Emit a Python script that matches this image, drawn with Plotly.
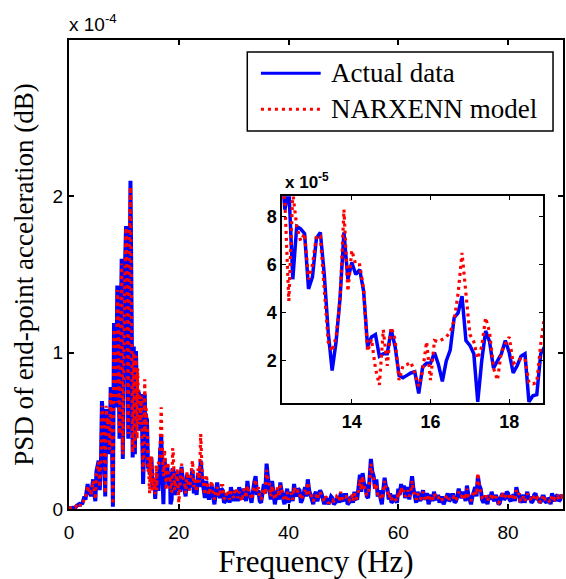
import numpy as np
import plotly.graph_objects as go

# Frequency grids (Hz): 0.2 Hz up to 12 Hz, 0.1 Hz through the zoomed band, 0.25 Hz tail
freq_low = np.round(np.arange(0.0, 12.01, 0.2), 2)
freq_mid = np.round(np.arange(12.2, 18.91, 0.1), 2)
freq_high = np.round(np.arange(19.0, 90.001, 0.25), 2)

# PSD values, in units of 1e-5
actual_low = [
    0.05, 0.05, 0.05, 0.05, 0.1, 0.1, 0.1, 0.2, 0.3, 0.3,
    0.2, 0.4, 0.3, 0.5, 0.8, 0.6, 1.2, 1.6, 0.9, 1.3,
    0.8, 1.5, 1.9, 1.0, 0.5, 2.4, 2.9, 3.1, 1.2, 2.5,
    6.9, 5.6, 4.8, 0.8, 6.4, 5.2, 6.0, 3.5, 7.8, 5.0,
    0.15, 11.9, 10.0, 6.5, 14.3, 11.0, 4.5, 12.5, 16.0, 3.2,
    13.0, 15.5, 18.1, 14.0, 4.5, 17.0, 21.0, 13.0, 3.3, 10.4,
    3.5,
]
model_low = [
    0.05, 0.05, 0.05, 0.1, 0.1, 0.15, 0.1, 0.25, 0.3, 0.35,
    0.2, 0.4, 0.35, 0.45, 0.7, 0.7, 1.1, 1.5, 1.0, 1.2,
    0.9, 1.4, 1.8, 1.1, 0.6, 2.2, 2.8, 3.0, 1.4, 2.7,
    6.6, 5.8, 5.0, 1.0, 6.6, 5.4, 5.8, 3.8, 7.5, 5.2,
    0.3, 11.5, 10.3, 6.8, 14.0, 11.3, 4.8, 12.2, 15.7, 3.5,
    12.6, 15.2, 18.0, 14.3, 4.8, 17.5, 20.6, 13.4, 3.6, 10.0,
    3.8,
]
actual_mid = [
    10.1, 8.3, 9.2, 5.4, 7.6, 7.5, 7.3, 5.0, 5.5, 7.1,
    7.35, 5.6, 3.2, 1.6, 2.8, 4.6, 7.35, 5.4, 6.1, 5.6,
    5.8, 4.9, 2.6, 3.0, 3.1, 2.2, 2.3, 2.3, 3.3, 2.6,
    1.4, 1.3, 1.4, 1.5, 1.55, 0.65, 1.75, 1.9, 1.9, 2.35,
    1.85, 1.15, 2.0, 2.45, 3.8, 4.0, 4.7, 2.85, 2.65, 2.3,
    0.3, 2.0, 3.25, 2.8, 1.7, 2.0, 2.3, 2.85, 2.35, 1.5,
    1.8, 2.2, 2.3, 0.3, 0.55, 0.6, 2.3, 2.6,
]
model_mid = [
    9.8, 8.6, 4.5, 9.0, 7.6, 7.0, 7.3, 5.4, 6.0, 7.2,
    7.2, 4.9, 2.8, 2.4, 3.0, 4.5, 8.3, 4.9, 6.6, 6.0,
    6.0, 5.0, 2.4, 2.9, 1.7, 1.0, 3.3, 1.8, 3.4, 2.9,
    1.2, 1.8, 1.85, 1.95, 1.5, 0.95, 1.6, 2.8, 1.2, 2.85,
    2.8, 2.9, 3.0, 3.2, 3.7, 4.8, 6.5, 4.8, 3.1, 2.8,
    2.1, 2.6, 3.8, 3.2, 1.7, 1.2, 2.4, 2.7, 3.0, 1.9,
    2.0, 2.1, 2.1, 1.1, 1.05, 1.1, 2.7, 3.9,
]
# one row per 5 Hz, starting at 19 Hz
actual_high = [
    2.5, 0.9, 1.2, 2.4, 2.0, 1.1, 2.7, 1.8, 1.3, 0.8, 2.2, 1.2, 1.5, 2.1, 2.5, 1.0, 1.6, 0.9, 2.3, 1.4,
    3.1, 2.0, 1.3, 0.7, 1.8, 1.1, 0.6, 1.2, 1.5, 0.8, 0.3, 1.1, 1.7, 1.0, 0.7, 1.3, 1.2, 0.4, 0.5, 1.0,
    0.9, 0.4, 1.4, 0.9, 0.5, 1.2, 1.0, 0.5, 1.4, 0.9, 0.6, 1.3, 1.1, 0.5, 1.8, 1.0, 0.8, 0.4, 1.4, 1.7,
    2.1, 0.9, 1.2, 0.5, 0.4, 1.0, 1.6, 1.0, 2.9, 2.0, 1.3, 0.6, 1.8, 1.1, 0.3, 0.8, 1.2, 0.6, 1.7, 1.1,
    0.7, 0.3, 0.9, 1.3, 0.4, 0.7, 1.1, 0.5, 1.6, 1.0, 0.8, 1.3, 1.2, 0.4, 0.6, 1.0, 1.4, 0.8, 1.9, 1.2,
    0.9, 0.4, 0.3, 0.9, 1.1, 0.5, 0.8, 1.2, 1.0, 0.6, 0.3, 0.7, 0.6, 0.3, 0.5, 0.8, 0.7, 0.3, 0.4, 0.7,
    0.8, 0.4, 1.0, 0.6, 0.5, 0.9, 0.9, 0.3, 0.4, 0.7, 0.8, 0.4, 1.1, 0.7, 0.6, 1.4, 2.2, 1.1, 2.3, 1.6,
    1.5, 0.8, 0.7, 1.9, 3.2, 2.4, 2.1, 1.3, 1.9, 0.8, 1.2, 0.7, 0.3, 1.2, 2.0, 1.4, 1.3, 0.6, 1.0, 0.4,
    0.5, 0.9, 0.7, 0.4, 1.3, 0.9, 1.6, 1.1, 1.5, 0.7, 1.1, 1.4, 0.6, 1.2, 2.1, 1.3, 0.8, 0.4, 1.1, 0.7,
    0.5, 0.9, 1.2, 0.6, 0.8, 1.0, 0.3, 0.6, 0.9, 0.5, 1.1, 0.7, 0.6, 0.9, 0.4, 0.7, 0.7, 0.3, 0.5, 0.8,
    1.0, 0.5, 0.6, 0.9, 0.9, 0.4, 0.5, 0.8, 1.3, 0.9, 0.7, 1.1, 0.9, 0.5, 1.5, 0.9, 0.6, 0.3, 0.8, 1.1,
    1.4, 0.8, 2.1, 1.5, 1.3, 0.6, 0.4, 0.8, 0.7, 0.3, 0.9, 0.6, 1.1, 0.7, 0.5, 0.9, 0.7, 0.3, 0.4, 0.8,
    1.0, 0.6, 0.7, 1.1, 1.0, 0.6, 0.5, 0.8, 0.9, 0.5, 1.4, 1.0, 0.9, 0.4, 0.6, 0.9, 0.4, 0.7, 1.1, 0.6,
    0.8, 0.4, 0.5, 0.9, 1.0, 0.6, 0.7, 0.4, 0.5, 0.8, 0.8, 0.5, 0.4, 0.7, 0.6, 0.3, 1.0, 0.7, 0.5, 0.8,
    0.9, 0.5, 0.6, 0.9, 0.7,
]
model_high = [
    3.5, 1.2, 1.8, 2.6, 0.4, 1.4, 2.9, 2.0, 1.8, 1.0, 2.4, 1.5, 1.2, 2.3, 3.1, 1.4, 2.0, 1.1, 2.6, 1.7,
    4.8, 2.3, 1.5, 0.9, 2.2, 1.3, 0.9, 1.4, 1.8, 1.0, 0.6, 1.2, 1.4, 0.8, 1.0, 1.5, 1.5, 0.7, 0.6, 1.1,
    1.2, 0.6, 1.1, 1.0, 0.7, 1.3, 1.3, 0.7, 1.1, 0.8, 0.5, 1.1, 1.3, 0.7, 1.5, 1.1, 1.0, 0.6, 1.2, 1.5,
    1.9, 1.1, 1.4, 0.7, 0.6, 1.1, 1.3, 0.9, 2.5, 1.8, 1.6, 0.8, 1.5, 1.0, 0.6, 0.9, 1.4, 0.8, 1.5, 1.2,
    0.9, 0.5, 0.7, 1.1, 0.6, 0.8, 1.0, 0.6, 1.4, 1.1, 1.0, 1.2, 1.0, 0.6, 0.8, 1.1, 1.2, 0.9, 1.7, 1.0,
    1.1, 0.6, 0.5, 0.8, 0.9, 0.6, 1.0, 1.1, 0.8, 0.7, 0.5, 0.8, 0.7, 0.4, 0.4, 0.6, 0.6, 0.5, 0.6, 0.8,
    0.7, 0.5, 1.1, 0.7, 0.6, 0.8, 0.8, 0.5, 0.5, 0.8, 0.9, 0.5, 1.0, 0.6, 0.8, 1.2, 1.9, 1.2, 2.1, 1.4,
    1.3, 0.9, 0.9, 1.6, 2.9, 2.2, 1.9, 1.2, 1.6, 0.9, 1.0, 0.8, 0.6, 1.1, 1.8, 1.2, 1.1, 0.7, 0.9, 0.6,
    0.7, 0.8, 0.6, 0.5, 1.1, 0.8, 1.4, 1.0, 1.2, 0.8, 0.9, 1.2, 0.8, 1.0, 1.8, 1.1, 0.9, 0.6, 1.0, 0.8,
    0.6, 0.8, 1.1, 0.7, 0.7, 0.9, 0.5, 0.7, 0.8, 0.6, 1.0, 0.8, 0.7, 0.8, 0.5, 0.6, 0.6, 0.5, 0.6, 0.8,
    0.9, 0.6, 0.7, 0.8, 0.8, 0.5, 0.6, 0.8, 1.1, 0.8, 0.8, 1.0, 0.8, 0.6, 1.3, 0.8, 0.7, 0.5, 0.9, 1.0,
    1.2, 0.9, 2.3, 1.4, 1.1, 0.7, 0.6, 0.8, 0.8, 0.5, 0.8, 0.7, 1.0, 0.7, 0.6, 0.8, 0.6, 0.4, 0.5, 0.8,
    0.9, 0.7, 0.8, 1.0, 0.9, 0.7, 0.6, 0.8, 0.8, 0.6, 1.2, 0.9, 1.0, 0.5, 0.5, 0.8, 0.5, 0.7, 1.0, 0.7,
    0.7, 0.5, 0.6, 0.8, 0.9, 0.7, 0.8, 0.5, 0.4, 0.7, 0.9, 0.6, 0.5, 0.6, 0.5, 0.4, 0.9, 0.7, 0.6, 0.7,
    0.8, 0.6, 0.7, 0.8, 0.6,
]

freq = np.concatenate([freq_low, freq_mid, freq_high])
actual = np.concatenate([actual_low, actual_mid, actual_high]) * 1e-5
model = np.concatenate([model_low, model_mid, model_high]) * 1e-5

main_ticks_x = [0, 20, 40, 60, 80]
main_ticks_y = [0, 1e-4, 2e-4]
main_ticklabels_y = ["0", "1", "2"]
inset_ticks_x = [14, 16, 18]
inset_ticks_y = [2e-5, 4e-5, 6e-5, 8e-5]
inset_ticklabels_y = ["2", "4", "6", "8"]

BLUE = "#0000FF"
RED = "#FF0000"
SANS = "Liberation Sans, Arial, sans-serif"
SERIF = "Liberation Serif, Times New Roman, serif"
DOTS = "3px,4px"

fig = go.Figure()

# main spectrum
fig.add_trace(go.Scatter(x=freq, y=actual, mode="lines", name="Actual data",
                         line=dict(color=BLUE, width=4), xaxis="x", yaxis="y"))
fig.add_trace(go.Scatter(x=freq, y=model, mode="lines", name="NARXENN model",
                         line=dict(color=RED, width=3.2, dash=DOTS), xaxis="x", yaxis="y"))

# zoomed inset
fig.add_trace(go.Scatter(x=freq, y=actual, mode="lines", showlegend=False,
                         line=dict(color=BLUE, width=3.5), xaxis="x2", yaxis="y2"))
fig.add_trace(go.Scatter(x=freq, y=model, mode="lines", showlegend=False,
                         line=dict(color=RED, width=3.2, dash=DOTS), xaxis="x2", yaxis="y2"))

axis_common = dict(showline=True, linecolor="black", mirror="allticks", ticks="inside",
                   tickcolor="black", showgrid=False, zeroline=False)

fig.update_layout(
    width=566, height=579,
    margin=dict(l=69, r=1, t=40, b=70),
    paper_bgcolor="white", plot_bgcolor="white",
    showlegend=False,
    xaxis=dict(domain=[0, 1], range=[0, 90], tickvals=main_ticks_x, ticklen=5, tickwidth=1.5,
               linewidth=2, ticklabelstandoff=5,
               tickfont=dict(family=SANS, size=19, color="black"),
               title=dict(text="Frequency (Hz)", standoff=9,
                          font=dict(family=SERIF, size=31, color="black")),
               **axis_common),
    yaxis=dict(domain=[0, 1], range=[0, 3e-4], tickvals=main_ticks_y, ticktext=main_ticklabels_y,
               ticklen=5, tickwidth=1.5, linewidth=2,
               tickfont=dict(family=SANS, size=19, color="black"),
               title=dict(text="PSD of end-point acceleration (dB)", standoff=11,
                          font=dict(family=SERIF, size=27, color="black")),
               **axis_common),
    xaxis2=dict(domain=[0.4315, 0.9597], anchor="y2", range=[12.23, 18.86], tickvals=inset_ticks_x,
                ticklen=4, tickwidth=1.2, linewidth=1.5, ticklabelstandoff=2,
                tickfont=dict(family=SANS, size=18, color="black", weight="bold"),
                **axis_common),
    yaxis2=dict(domain=[0.226, 0.667], anchor="x2", range=[0.25e-5, 8.86e-5],
                tickvals=inset_ticks_y, ticktext=inset_ticklabels_y,
                ticklen=4, tickwidth=1.2, linewidth=1.5,
                tickfont=dict(family=SANS, size=18, color="black", weight="bold"),
                **axis_common),
)

# exponent labels
fig.add_annotation(text="x 10<sup>-4</sup>", xref="paper", yref="paper", x=-0.004, y=1.006,
                   xanchor="left", yanchor="bottom", showarrow=False,
                   font=dict(family=SANS, size=19, color="black"))
fig.add_annotation(text="<b>x 10<sup>-5</sup></b>", xref="paper", yref="paper", x=0.433, y=0.672,
                   xanchor="left", yanchor="bottom", showarrow=False,
                   font=dict(family=SANS, size=17, color="black"))

# legend box with line samples
fig.add_shape(type="rect", xref="paper", yref="paper", x0=0.3609, x1=0.9798, y0=0.806, y1=0.9744,
              line=dict(color="black", width=1.5), fillcolor="white", layer="above")
fig.add_shape(type="line", xref="paper", yref="paper", x0=0.3885, x1=0.5095, y0=0.9289, y1=0.9289,
              line=dict(color=BLUE, width=3), layer="above")
fig.add_shape(type="line", xref="paper", yref="paper", x0=0.3885, x1=0.5095, y0=0.8522, y1=0.8522,
              line=dict(color=RED, width=3, dash=DOTS), layer="above")
fig.add_annotation(text="Actual data", xref="paper", yref="paper", x=0.5262, y=0.9289,
                   xanchor="left", yanchor="middle", showarrow=False,
                   font=dict(family=SERIF, size=27, color="black"))
fig.add_annotation(text="NARXENN model", xref="paper", yref="paper", x=0.5262, y=0.8522,
                   xanchor="left", yanchor="middle", showarrow=False,
                   font=dict(family=SERIF, size=27, color="black"))

fig.write_html("out.html")
